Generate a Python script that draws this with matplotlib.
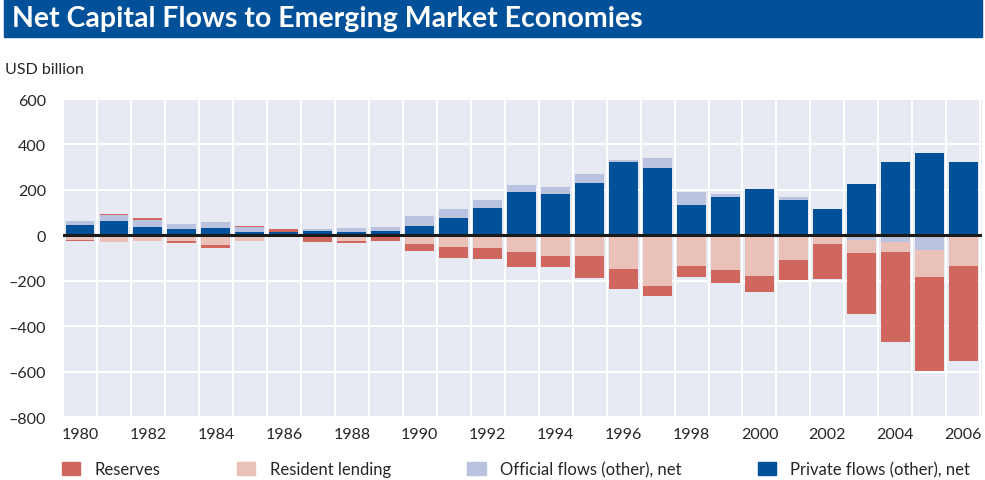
import matplotlib.pyplot as plt
import matplotlib.patches as mpatches
import numpy as np

plt.rcParams['font.family'] = ['Lato', 'DejaVu Sans']

#data (USD billion)
years = np.arange(1980, 2007)
reserves = [-4, 4, 9, -13, -17, 4, 13, -30, -9, -24,
            -31, -49, -49, -66, -49, -98, -89, -45, -49, -58,
            -71, -89, -155, -271, -399, -412, -417]
resident = [-19, -28, -23, -23, -41, -23, 0, 0, -23, 0,
            -37, -50, -55, -73, -90, -90, -148, -223, -135, -152,
            -179, -108, -37, -58, -45, -120, -127]
official = [17, 27, 31, 22, 26, 22, 0, 9, 18, 17,
            40, 40, 36, 31, 32, 40, 8, 44, 57, 14,
            0, 13, 0, -19, -28, -64, -8]
private = [47, 64, 38, 29, 34, 16, 16, 20, 16, 21,
           43, 74, 118, 189, 180, 229, 323, 296, 132, 167,
           203, 154, 114, 225, 323, 363, 323]

yticks = [600, 400, 200, 0, -200, -400, -600, -800]
xticks = np.arange(1980, 2007, 2)

c_res = "#D0675E"
c_lend = "#E9C1B8"
c_off = "#B9C3E0"
c_priv = "#00509A"
c_txt = "#262626"

reserves = np.array(reserves, dtype=float)
resident = np.array(resident, dtype=float)
official = np.array(official, dtype=float)
private = np.array(private, dtype=float)

fig = plt.figure(figsize=(9.85, 4.81), dpi=100)
ax = fig.add_axes([63/985, 1-418/481, (982-63)/985, (418-100)/481])
ax.set_facecolor("#E8EAF3")

w = 0.85
#positive stack: private, official(+), reserves(+)
off_pos = np.clip(official, 0, None)
res_pos = np.clip(reserves, 0, None)
ax.bar(years, private, w, color=c_priv, zorder=3)
ax.bar(years, off_pos, w, bottom=private, color=c_off, zorder=3)
ax.bar(years, res_pos, w, bottom=private+off_pos, color=c_res, zorder=3)
#negative stack: official(-), resident lending, reserves(-)
off_neg = np.clip(official, None, 0)
res_neg = np.clip(reserves, None, 0)
ax.bar(years, off_neg, w, color=c_off, zorder=3)
ax.bar(years, resident, w, bottom=off_neg, color=c_lend, zorder=3)
ax.bar(years, res_neg, w, bottom=off_neg+resident, color=c_res, zorder=3)

ax.axhline(0, color="#1a1a1a", lw=2.2, zorder=4)

ax.set_xlim(1979.5, 2006.55)
ax.set_ylim(-800, 600)
ax.set_yticks(yticks)
ax.set_xticks(xticks)
ax.set_yticklabels([str(t).replace("-", "\u2013") for t in yticks])
ax.set_xticks(np.arange(1979.5, 2006.6, 1), minor=True)
ax.grid(True, which="minor", axis="x", color="white", lw=1.5, zorder=1)
ax.grid(True, which="major", axis="y", color="white", lw=1.5, zorder=1)
ax.tick_params(which="both", length=0, labelsize=11.5, colors=c_txt)
ax.tick_params(axis="y", pad=12)
ax.tick_params(axis="x", pad=7)
for s in ax.spines.values():
    s.set_visible(False)

#title banner
fig.patches.append(mpatches.Rectangle((4/985, 1-38/481), 978/985, 38/481,
                                      transform=fig.transFigure,
                                      color=c_priv, zorder=0))
fig.text(12/985, 1-19/481, "Net Capital Flows to Emerging Market Economies",
         color="white", fontsize=20.5, fontweight="bold", va="center")
fig.text(5/985, 1-70/481, "USD billion", fontsize=11.5, color=c_txt,
         va="center")

handles = [mpatches.Patch(color=c_res, label="Reserves"),
           mpatches.Patch(color=c_lend, label="Resident lending"),
           mpatches.Patch(color=c_off, label="Official flows (other), net"),
           mpatches.Patch(color=c_priv, label="Private flows (other), net")]
leg = fig.legend(handles=handles, loc="center left",
                 bbox_to_anchor=(62/985, 1-470/481), ncol=4, frameon=False,
                 fontsize=12, columnspacing=4.6,
                 handlelength=1.1, handleheight=0.85, handletextpad=0.85,
                 borderpad=0, borderaxespad=0)
for t in leg.get_texts():
    t.set_color(c_txt)

plt.savefig("out.png", dpi=100)
